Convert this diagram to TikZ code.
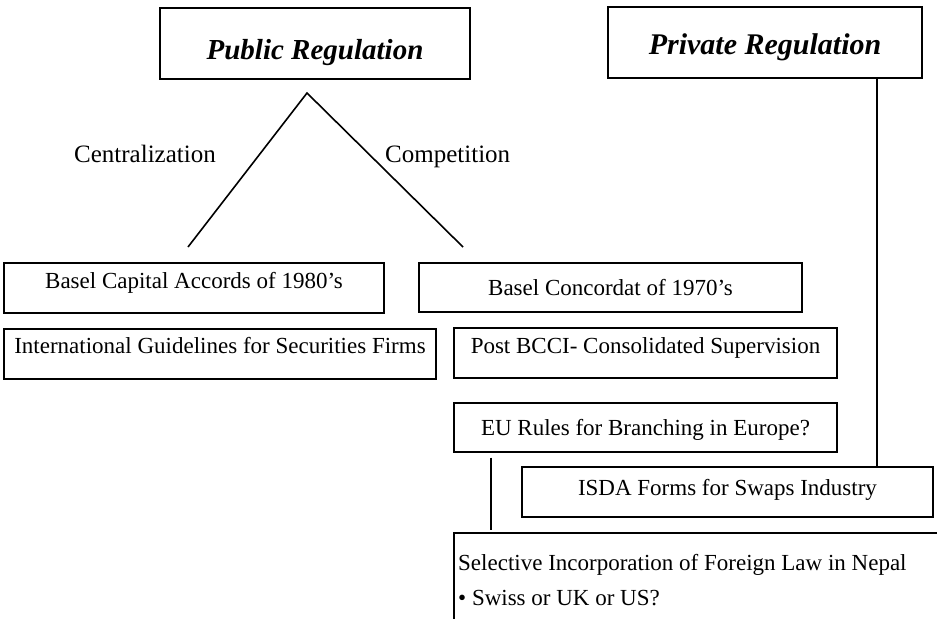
\documentclass[tikz,border=0pt]{standalone}
\usepackage{fontspec}
\setmainfont{Liberation Serif}
\begin{document}
\begin{tikzpicture}[x=1pt,y=-1pt,
  box/.style={draw,line width=1.3pt,inner sep=0pt,text height=15.2pt,font=\fontsize{23}{27}\selectfont},
  head/.style={draw,line width=1.3pt,inner sep=0pt,text depth=0pt,font=\fontsize{29}{34}\selectfont\bfseries\itshape},
  lbl/.style={inner sep=0pt,font=\fontsize{25}{30}\selectfont},
  conn/.style={line width=1.6pt}]
\useasboundingbox (0,0) rectangle (937,619);
\node[head,text height=32pt,minimum width=310pt,minimum height=71pt] (pub) at (315,43.5) {Public Regulation};
\node[head,font=\fontsize{30}{35}\selectfont\bfseries\itshape,text height=24pt,minimum width=314pt,minimum height=71pt] (pri) at (765,42.5) {Private Regulation};
\coordinate (apex) at (307,93);
\coordinate (tl) at (188,247);
\coordinate (tr) at (463,247);
\draw[conn] (tl) -- (apex) -- (tr);
\node[lbl,anchor=base] (cen) at (145,162) {Centralization};
\node[lbl,anchor=base west] (com) at (385,162) {Competition};
\node[box,text depth=14pt,minimum width=380pt,minimum height=50pt] (bca) at (194,288) {Basel Capital Accords of 1980's};
\node[box,text depth=0pt,minimum width=383pt,minimum height=49pt] (bco) at (610.5,287.5) {Basel Concordat of 1970's};
\node[box,text depth=17pt,minimum width=432pt,minimum height=50pt] (igs) at (220,354) {International Guidelines for Securities Firms};
\node[box,text depth=15pt,minimum width=383pt,minimum height=50pt] (pbc) at (645.5,353) {Post BCCI- Consolidated Supervision};
\node[box,text depth=0pt,minimum width=383pt,minimum height=49pt] (eu) at (645.5,427.5) {EU Rules for Branching in Europe?};
\node[box,text depth=9pt,minimum width=411pt,minimum height=50pt] (isda) at (727.5,492) {ISDA Forms for Swaps Industry};
\coordinate (selTL) at (454,533);
\coordinate (selTR) at (937,533);
\coordinate (selBL) at (454,619);
\draw[line width=1.3pt] (selTR) -- (selTL) -- (selBL);
\node[lbl,font=\fontsize{23}{27}\selectfont,anchor=base west] (sel1) at (458,570) {Selective Incorporation of Foreign Law in Nepal};
\node[lbl,font=\fontsize{23}{27}\selectfont,anchor=base west] (sel2) at (458,605) {• Swiss or UK or US?};
\coordinate (pl) at (877,0);
\draw[conn] (pri.south -| pl) -- (isda.north -| pl);
\coordinate (el) at (491,0);
\draw[conn,shorten <=5pt,shorten >=3pt] (eu.south -| el) -- (selTL -| el);
\end{tikzpicture}
\end{document}
